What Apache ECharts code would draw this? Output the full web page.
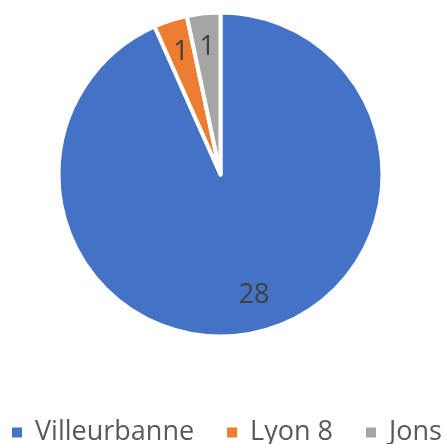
<!DOCTYPE html>
<html>
<head>
<meta charset="utf-8">
<script src="https://cdn.jsdelivr.net/npm/echarts@6/dist/echarts.min.js"></script>
<style>
  html, body { margin: 0; padding: 0; background: #fff; }
  #container { width: 446px; height: 444px; }
</style>
</head>
<body>
<div id="container"></div>
<script>
// pie data
const categories = ['Villeurbanne', 'Lyon 8', 'Jons'];
const values = [28, 1, 1];
const colors = ['#4472C4', '#ED7D31', '#A5A5A5'];

const pieData = categories.map((name, i) => ({ name: name, value: values[i] }));

// excel puts the big slice's label a bit off the mid angle
const labelData = pieData.map((d, i) => i === 0 ? { ...d, label: { offset: [7, -4] } } : d);

let myChart = echarts.init(document.getElementById('container'));

myChart.setOption({
    animation: false,
    color: colors,
    legend: {
        data: categories,
        left: 12,
        top: 419,
        width: 440,
        padding: 0,
        icon: 'rect',
        itemWidth: 10,
        itemHeight: 10,
        itemGap: 33,
        itemStyle: { borderWidth: 0 },
        textStyle: {
            fontFamily: 'Open Sans',
            fontSize: 27,
            lineHeight: 27,
            color: '#595959',
            padding: [0, 0, 0, 8]
        }
    },
    series: [
        {
            type: 'pie',
            center: [220.5, 174.5],
            radius: 162,
            startAngle: 90,
            clockwise: true,
            data: pieData,
            label: { show: false },
            labelLine: { show: false },
            itemStyle: { borderColor: '#fff', borderWidth: 4 },
            emphasis: { disabled: true }
        },
        {
            // transparent copy only used to place the value labels further out
            type: 'pie',
            center: [220.5, 174.5],
            radius: 250,
            startAngle: 90,
            clockwise: true,
            silent: true,
            data: labelData,
            itemStyle: { color: 'transparent' },
            label: {
                show: true,
                position: 'inside',
                formatter: '{c}',
                fontFamily: 'Open Sans',
                fontSize: 27,
                color: '#404040'
            },
            labelLine: { show: false },
            emphasis: { disabled: true }
        }
    ]
});
</script>
</body>
</html>
